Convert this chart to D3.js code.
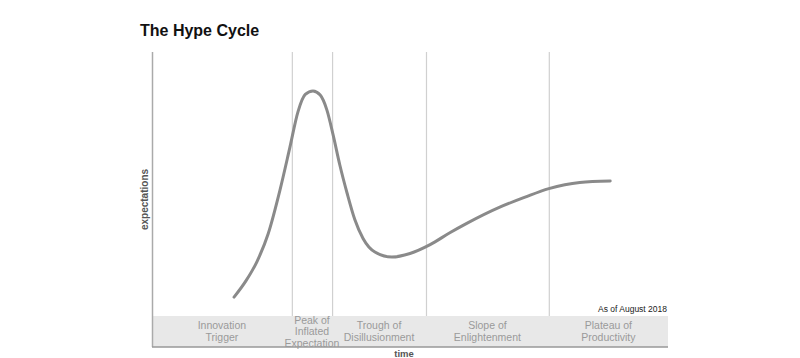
<!DOCTYPE html>
<html><head><meta charset="utf-8">
<script src="https://cdn.jsdelivr.net/npm/d3@7"></script>
<style>body{margin:0;background:#fff}svg{display:block;font-family:"Liberation Sans",Arial,sans-serif}</style>
</head><body><svg id="c" width="800" height="358"></svg>
<script>
const time = [15.9,18.2,20.3,22.5,24.8,26.7,28.3,29.7,31.2,32.6,33.9,35.1,36.4,37.8,39.3,40.9,43.2,46.5,50.0,53.9,57.8,61.0,67.4,72.3,76.9,82.9,88.8];
const expectations = [16.9,22.4,28.8,38.3,53.2,67.5,79.8,85.6,86.8,85.4,80.3,71.9,61.7,52.2,43.2,36.8,32.2,30.5,31.7,34.7,38.8,41.9,47.4,50.8,53.7,55.8,56.3];
const phaseBounds = [0,27.1,34.9,53.1,76.9,100];
const phaseLabels = [["Innovation","Trigger"],["Peak of","Inflated","Expectation"],["Trough of","Disillusionment"],["Slope of","Enlightenment"],["Plateau of","Productivity"]];

const svg = d3.select("#c");
const x = d3.scaleLinear().domain([0,100]).range([152,668]);
const y = d3.scaleLinear().domain([0,100]).range([347,52]);
const bandTop = 316;

svg.append("text").attr("x",140).attr("y",36).attr("font-size",16).attr("font-weight","bold").attr("fill","#111").text("The Hype Cycle");

svg.append("rect").attr("x",x(0)).attr("y",bandTop).attr("width",x(100)-x(0)).attr("height",y(0)-bandTop).attr("fill","#e8e8e8");

svg.selectAll("line.div").data(phaseBounds.slice(1,-1)).enter().append("line")
  .attr("x1",d=>x(d)+0.5).attr("x2",d=>x(d)+0.5).attr("y1",y(100)).attr("y2",bandTop)
  .attr("stroke","#d0d0d0").attr("stroke-width",1.2);

svg.append("line").attr("x1",x(0)+0.5).attr("x2",x(0)+0.5).attr("y1",y(100)).attr("y2",y(0)).attr("stroke","#aaa").attr("stroke-width",1.5);
svg.append("line").attr("x1",x(0)).attr("x2",x(100)).attr("y1",y(0)).attr("y2",y(0)).attr("stroke","#999").attr("stroke-width",1.5);

phaseLabels.forEach((lines,i)=>{
  const cx = (x(phaseBounds[i])+x(phaseBounds[i+1]))/2;
  const lh = 11.5;
  const cy = (bandTop+y(0))/2;
  const t = svg.append("text").attr("text-anchor","middle").attr("font-size",10.5).attr("fill","#9a9a9a");
  lines.forEach((l,j)=>{
    t.append("tspan").attr("x",cx).attr("y",cy + (j-(lines.length-1)/2)*lh + 3.5).text(l);
  });
});

const pts = time.map((t,i)=>[t,expectations[i]]);
svg.append("path").datum(pts)
  .attr("d",d3.line().x(d=>x(d[0])).y(d=>y(d[1])).curve(d3.curveMonotoneX))
  .attr("fill","none").attr("stroke","#8a8a8a").attr("stroke-width",3).attr("stroke-linecap","round");

svg.append("text").attr("x",667).attr("y",312).attr("text-anchor","end").attr("font-size",8.5).attr("fill","#222").text("As of August 2018");
svg.append("text").attr("transform","translate(148,"+((y(0)+y(100))/2)+") rotate(-90)").attr("text-anchor","middle").attr("font-size",10).attr("font-weight","bold").attr("fill","#555").text("expectations");
svg.append("text").attr("x",404).attr("y",357).attr("text-anchor","middle").attr("font-size",9.5).attr("font-weight","bold").attr("fill","#555").text("time");
</script></body></html>
